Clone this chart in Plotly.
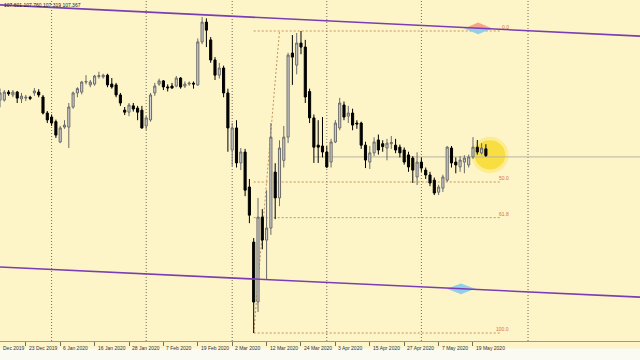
import plotly.graph_objects as go
import pandas as pd

# ---------------- data ----------------
dates = [d.strftime("%Y-%m-%d") for d in pd.bdate_range("2019-12-13", "2020-05-22")
         if d.strftime("%m-%d") not in ("12-25", "01-01")]

open_ = [
    109.30, 109.30, 109.58, 109.48, 109.58, 109.34, 109.37, 109.40, 109.55, 109.58,
    109.41, 108.85, 108.71, 108.55, 107.84, 108.36, 108.36, 109.06, 109.55, 109.58,
    109.93, 109.83, 109.86, 110.12, 110.11, 110.17, 109.86, 109.83, 109.48, 108.95,
    108.88, 109.10, 109.02, 108.95, 108.40, 108.61, 109.55, 109.86, 109.97, 109.76,
    109.79, 109.79, 110.07, 109.79, 109.86, 109.89, 109.83, 111.33, 112.02, 111.40,
    110.70, 110.17, 110.42, 109.55, 107.56, 108.33, 107.11, 107.49, 106.27, 104.35,
    102.26, 105.22, 104.42, 104.84, 106.79, 105.89, 107.20, 108.01, 110.94, 110.52,
    111.29, 111.15, 109.60, 108.68, 107.73, 107.70, 107.49, 107.14, 107.84, 108.33,
    109.13, 108.74, 108.85, 108.50, 108.50, 107.73, 107.14, 107.46, 107.91, 107.78,
    107.63, 107.78, 107.73, 107.66, 107.56, 107.39, 107.28, 106.62, 107.14, 106.86,
    106.69, 106.51, 106.09, 106.23, 106.51, 107.63, 107.14, 106.97, 107.14, 107.04,
    107.32, 107.66, 107.46, 107.601]

high = [
    109.70, 109.65, 109.65, 109.65, 109.62, 109.55, 109.48, 109.45, 109.72, 109.68,
    109.48, 108.92, 108.80, 108.62, 108.40, 108.60, 109.20, 109.60, 109.75, 109.97,
    110.17, 110.00, 110.18, 110.29, 110.22, 110.22, 110.07, 109.90, 109.55, 109.06,
    109.20, 109.20, 109.10, 109.10, 108.75, 109.55, 109.90, 110.05, 110.00, 109.85,
    109.90, 110.14, 110.10, 109.95, 109.95, 109.95, 111.45, 112.20, 112.15, 111.50,
    110.80, 110.60, 110.50, 109.70, 108.50, 108.60, 107.63, 107.60, 106.55, 104.49,
    105.89, 105.50, 106.16, 108.50, 107.10, 107.90, 108.40, 110.95, 111.57, 111.64,
    111.71, 111.40, 109.70, 108.80, 108.60, 108.71, 107.70, 107.95, 108.60, 109.38,
    109.25, 109.10, 109.00, 108.60, 108.55, 107.85, 107.70, 108.00, 108.10, 107.90,
    107.95, 108.05, 107.95, 107.75, 107.65, 107.50, 107.35, 107.48, 107.30, 106.95,
    106.80, 106.60, 106.35, 106.70, 107.70, 107.70, 107.30, 107.35, 107.38, 107.40,
    108.01, 107.91, 107.80, 107.760]

low = [
    109.05, 109.25, 109.45, 109.40, 109.20, 109.20, 109.27, 109.30, 109.45, 109.40,
    108.80, 108.50, 108.40, 107.98, 107.80, 108.30, 107.63, 109.00, 109.40, 109.50,
    109.85, 109.75, 109.80, 110.05, 110.05, 109.75, 109.70, 109.40, 109.10, 108.78,
    108.74, 108.90, 108.60, 108.30, 108.26, 108.55, 109.45, 109.80, 109.65, 109.60,
    109.70, 109.75, 109.70, 109.72, 109.80, 109.70, 109.80, 111.25, 111.15, 110.60,
    110.00, 110.05, 109.40, 107.50, 107.00, 106.95, 106.86, 105.95, 105.01, 101.18,
    101.91, 104.10, 103.03, 104.60, 105.15, 105.60, 106.95, 107.80, 109.83, 110.20,
    110.90, 109.20, 108.50, 107.11, 107.11, 107.30, 106.93, 106.95, 107.80, 108.25,
    108.60, 108.50, 108.25, 108.30, 107.60, 106.93, 106.90, 107.35, 107.40, 107.50,
    107.20, 107.60, 107.45, 107.30, 107.05, 106.80, 106.41, 106.34, 106.80, 106.55,
    106.30, 105.99, 105.99, 106.10, 106.45, 106.95, 106.75, 106.80, 106.75, 106.95,
    107.25, 107.40, 107.40, 107.319]

close = [
    109.55, 109.58, 109.52, 109.58, 109.37, 109.44, 109.40, 109.36, 109.62, 109.48,
    108.85, 108.61, 108.50, 108.08, 108.33, 108.43, 109.06, 109.55, 109.70, 109.93,
    109.95, 109.93, 110.14, 110.15, 110.17, 109.83, 109.76, 109.48, 109.20, 108.88,
    109.13, 108.99, 108.88, 108.33, 108.68, 109.48, 109.79, 109.97, 109.76, 109.73,
    109.72, 110.07, 109.76, 109.86, 109.89, 109.86, 111.33, 112.02, 111.74, 110.70,
    110.17, 110.42, 109.55, 108.33, 108.33, 107.11, 107.49, 106.16, 105.29, 102.26,
    105.22, 104.42, 104.84, 108.01, 105.89, 107.63, 108.01, 110.87, 110.80, 111.29,
    111.15, 109.41, 108.68, 107.66, 107.66, 107.49, 106.97, 107.84, 108.50, 109.20,
    108.71, 108.85, 108.43, 108.47, 107.73, 107.21, 107.46, 107.84, 107.56, 107.68,
    107.80, 107.82, 107.56, 107.46, 107.14, 106.97, 106.86, 107.14, 106.93, 106.69,
    106.41, 106.06, 106.27, 106.62, 107.66, 107.11, 107.04, 107.21, 107.28, 107.32,
    107.66, 107.49, 107.63, 107.367]

# first label is only partly on screen in the reference ("Dec 2019")
tick_labels = ["Dec 2019", "23 Dec 2019", "6 Jan 2020", "16 Jan 2020", "28 Jan 2020",
               "7 Feb 2020", "19 Feb 2020", "2 Mar 2020", "12 Mar 2020", "24 Mar 2020",
               "3 Apr 2020", "15 Apr 2020", "27 Apr 2020", "7 May 2020", "19 May 2020"]
month_starts = ["2020-01-02", "2020-02-03", "2020-03-02", "2020-04-01", "2020-05-01"]

fib_low, fib_high = 101.18, 111.71
fib_levels = [0.0, 50.0, 61.8, 100.0]
fib_start = "2020-03-09"
fib_end_date = "2020-03-17"

channel_upper = [112.62, 111.53]   # price at left / right edge
channel_lower = [103.48, 102.43]
header_text = "107.601 107.760 107.319 107.367"

# ---------------- figure ----------------
n = len(dates)
xi = list(range(n))
pos = {d: i for i, d in enumerate(dates)}
X_MAX = 148.84
BG = "#fdf5c8"
FONT = "Liberation Sans"

fig = go.Figure()
fig.add_trace(go.Candlestick(
    x=xi, open=open_, high=high, low=low, close=close,
    increasing=dict(fillcolor="#d4d4d4", line=dict(color="#6a6a6a", width=1)),
    decreasing=dict(fillcolor="#000000", line=dict(color="#000000", width=1)),
    whiskerwidth=0, hoverinfo="skip", showlegend=False))

shapes = []
for d in month_starts:
    shapes.append(dict(type="line", xref="x", yref="paper", x0=pos[d], x1=pos[d], y0=0, y1=1,
                       line=dict(color="#6c6c5c", width=1, dash="1px,2px"), layer="below"))
shapes.append(dict(type="line", xref="x", yref="paper", x0=122.8, x1=122.8, y0=0, y1=1,
                   line=dict(color="#6c6c5c", width=1, dash="1px,2px"), layer="below"))

# yellow highlight circle
shapes.append(dict(type="circle", xref="x", yref="y", x0=109.6, x1=118.3, y0=106.75, y1=108.02,
                   fillcolor="rgba(250,226,80,0.45)", line=dict(width=0), layer="below"))
shapes.append(dict(type="circle", xref="x", yref="y", x0=110.4, x1=117.5, y0=106.88, y1=107.90,
                   fillcolor="rgba(248,220,50,0.85)", line=dict(width=0), layer="below"))

# horizontal grey line
shapes.append(dict(type="line", xref="x", yref="y", x0=72.8, x1=X_MAX, y0=107.32, y1=107.32,
                   line=dict(color="#b9b3a0", width=1), layer="below"))

# fibonacci
fib_end = 116.3
for lv in fib_levels:
    p = fib_high - lv / 100.0 * (fib_high - fib_low)
    shapes.append(dict(type="line", xref="x", yref="y", x0=pos[fib_start], x1=fib_end, y0=p, y1=p,
                       line=dict(color="#c8905a", width=1, dash="2px,2px"), layer="below"))
shapes.append(dict(type="line", xref="x", yref="y", x0=pos[fib_start], x1=pos[fib_end_date],
                   y0=fib_low, y1=fib_high,
                   line=dict(color="#c8905a", width=1, dash="2px,2px"), layer="below"))

# channel lines
for pr in (channel_upper, channel_lower):
    shapes.append(dict(type="line", xref="x", yref="y", x0=0, x1=X_MAX, y0=pr[0], y1=pr[1],
                       line=dict(color="#7b3db3", width=1.6)))

# bottom white strip
shapes.append(dict(type="rect", xref="paper", yref="paper", x0=0, x1=1, y0=-19 / 341, y1=-7.5 / 341,
                   fillcolor="#fbfaf2", line=dict(width=0)))

def tri(cx, cy, w, h, sign, color):
    fig.add_trace(go.Scatter(x=[cx - w, cx, cx + w, cx - w], y=[cy, cy + sign * h, cy, cy],
                             fill="toself", fillcolor=color, mode="lines",
                             line=dict(width=0, color=color), hoverinfo="skip", showlegend=False))

tri(111.2, 111.80, 3.3, 0.21, 1, "rgba(245,160,135,0.95)")
tri(111.2, 111.80, 3.3, 0.20, -1, "rgba(140,205,235,0.95)")
tri(107.2, 102.72, 3.3, 0.19, 1, "rgba(140,205,235,0.95)")
tri(107.2, 102.72, 3.3, 0.19, -1, "rgba(140,205,235,0.95)")

annotations = []
PX_PER_BAR = 640 / X_MAX
for k, lab in enumerate(tick_labels):
    bar = -2 + 8 * k
    xpx = max(bar * PX_PER_BAR + 1, 0.5)
    annotations.append(dict(x=xpx / 640, y=0, xref="paper", yref="paper",
                            text=lab, showarrow=False,
                            xanchor="left", yanchor="middle", yshift=-6.5,
                            font=dict(family=FONT, size=5, color="#303030")))
for lv in fib_levels:
    p = fib_high - lv / 100.0 * (fib_high - fib_low)
    annotations.append(dict(x=118.8, y=p, xref="x", yref="y", text=f"{lv:.1f}", showarrow=False,
                            xanchor="right", yanchor="bottom", yshift=-1,
                            font=dict(family=FONT, size=5, color="#e06a48")))
annotations.append(dict(x=0.003, y=1 - 5 / 341, xref="paper", yref="paper", text=header_text,
                        showarrow=False, xanchor="left", yanchor="middle",
                        font=dict(family=FONT, size=5, color="#202020")))

fig.update_layout(
    width=640, height=360, margin=dict(l=0, r=0, t=0, b=19),
    paper_bgcolor=BG, plot_bgcolor=BG, showlegend=False,
    shapes=shapes, annotations=annotations,
    xaxis=dict(range=[0, X_MAX], showgrid=False, zeroline=False, showline=True,
               linecolor="#9c9c88", linewidth=1, ticks="outside", ticklen=4, tickcolor="#707060",
               tickvals=[-2 + 8 * k for k in range(len(tick_labels))], showticklabels=False,
               rangeslider=dict(visible=False)),
    yaxis=dict(range=[100.901, 112.791], visible=False),
)

fig.write_html("out.html")
